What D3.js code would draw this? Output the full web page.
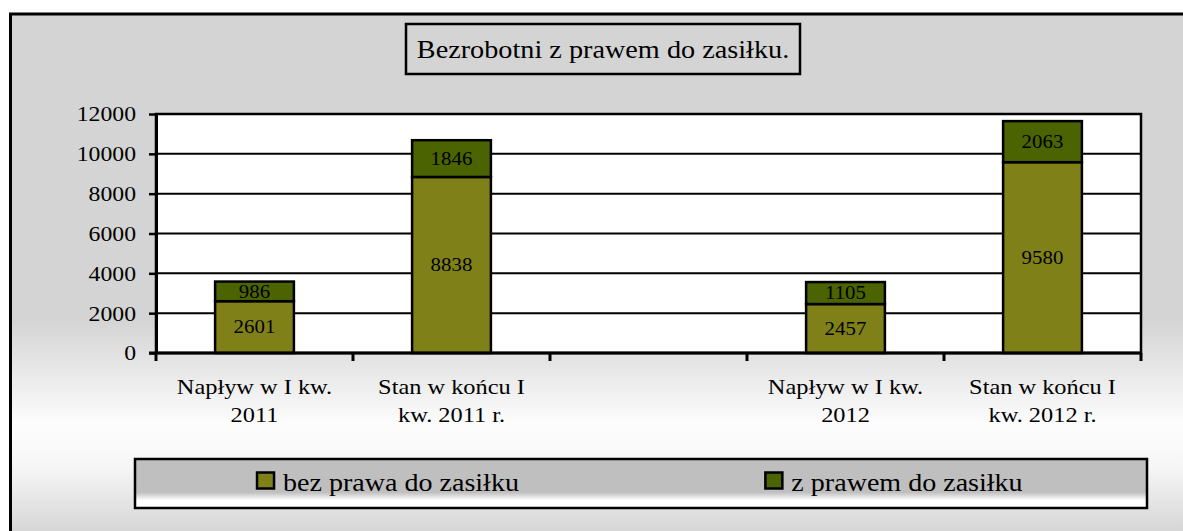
<!DOCTYPE html>
<html>
<head>
<meta charset="utf-8">
<script src="https://cdn.jsdelivr.net/npm/d3@7"></script>
<style>
  body { margin: 0; background: #fff; }
  svg text { font-family: "Liberation Serif", "Times New Roman", serif !important; fill: #000; }
</style>
</head>
<body>
<div id="chart"></div>
<script>
(function() {

    // data
    var categories = ["Napływ w I kw.\n2011", "Stan w końcu I\nkw. 2011 r.", "", "Napływ w I kw.\n2012", "Stan w końcu I\nkw. 2012 r."];
    var bezPrawa = [2601, 8838, null, 2457, 9580];
    var zPrawem = [986, 1846, null, 1105, 2063];
    var seriesNames = ["bez prawa do zasiłku", "z prawem do zasiłku"];
    var seriesColors = ["#808018", "#4b6300"];
    var yTicks = [0, 2000, 4000, 6000, 8000, 10000, 12000];
    var title = "Bezrobotni z prawem do zasiłku.";

    var width = 1183, height = 531;
    var plot = {left: 156, right: 1141, top: 114, bottom: 353};
    var sx = 1.13; // the original text is stretched horizontally
    var serif = '"Liberation Serif", "Times New Roman", serif';

    var svg = d3.select("#chart")
        .append("svg")
        .attr("width", width)
        .attr("height", height)
        .attr("font-family", serif);

    var defs = svg.append("defs");

    var bg = defs.append("linearGradient")
        .attr("id", "bg")
        .attr("gradientUnits", "userSpaceOnUse")
        .attr("x1", 0).attr("x2", 0).attr("y1", 0).attr("y2", height);
    [[0, "#d4d4d4"], [320, "#d4d4d4"], [425, "#fdfdfd"], [468, "#f6f6f6"], [531, "#d6d6d6"]].forEach(function(s) {
        bg.append("stop").attr("offset", s[0] / height).attr("stop-color", s[1]);
    });

    var lg = defs.append("linearGradient")
        .attr("id", "lg")
        .attr("x1", 0).attr("x2", 0).attr("y1", 0).attr("y2", 1);
    [[0, "#bfbfbf"], [0.68, "#bfbfbf"], [0.84, "#ffffff"], [1, "#ffffff"]].forEach(function(s) {
        lg.append("stop").attr("offset", s[0]).attr("stop-color", s[1]);
    });

    // outer frame (runs past the right and bottom edges)
    svg.append("rect")
        .attr("x", 10.5).attr("y", 14)
        .attr("width", width + 20).attr("height", height + 20)
        .attr("fill", "url(#bg)")
        .attr("stroke", "#000")
        .attr("stroke-width", 3);

    function stext(parent, x, y, txt, size, anchor, s) {
        return parent.append("text")
            .attr("transform", "translate(" + x + "," + y + ") scale(" + (s || sx) + ",1)")
            .attr("text-anchor", anchor || "middle")
            .attr("font-family", serif)
            .style("font-size", size + "px")
            .text(txt);
    }

    // title box
    svg.append("rect")
        .attr("x", 406).attr("y", 24)
        .attr("width", 394).attr("height", 50)
        .attr("fill", "none")
        .attr("stroke", "#000")
        .attr("stroke-width", 2.5);
    stext(svg, 603, 57.5, title, 25);

    var x = d3.scaleBand()
        .domain(categories)
        .range([plot.left, plot.right])
        .paddingInner(0.6)
        .paddingOuter(0.3);

    var y = d3.scaleLinear()
        .domain([0, 12000])
        .range([plot.bottom, plot.top]);

    // plot area
    svg.append("rect")
        .attr("x", plot.left).attr("y", plot.top)
        .attr("width", plot.right - plot.left).attr("height", plot.bottom - plot.top)
        .attr("fill", "#fff")
        .attr("stroke", "#000")
        .attr("stroke-width", 2.5);

    svg.append("g")
        .selectAll("line")
        .data(yTicks.filter(function(d) { return d > 0; }))
        .enter().append("line")
        .attr("x1", plot.left).attr("x2", plot.right)
        .attr("y1", function(d) { return y(d); })
        .attr("y2", function(d) { return y(d); })
        .attr("stroke", "#000")
        .attr("stroke-width", 2);

    // stacked bars
    var rows = categories.map(function(c, i) {
        return {cat: c, bez: bezPrawa[i] || 0, z: zPrawem[i] || 0};
    }).filter(function(r) { return r.bez + r.z > 0; });

    var stack = d3.stack().keys(["bez", "z"])(rows);

    var layers = svg.selectAll(".layer")
        .data(stack)
        .enter().append("g")
        .attr("class", "layer")
        .attr("fill", function(d, i) { return seriesColors[i]; });

    layers.selectAll("rect")
        .data(function(d) { return d; })
        .enter().append("rect")
        .attr("x", function(d) { return x(d.data.cat); })
        .attr("y", function(d) { return y(d[1]); })
        .attr("width", x.bandwidth())
        .attr("height", function(d) { return y(d[0]) - y(d[1]); })
        .attr("stroke", "#000")
        .attr("stroke-width", 2.5);

    layers.each(function() {
        var g = d3.select(this);
        g.datum().forEach(function(d) {
            var cy = (y(d[0]) + y(d[1])) / 2;
            stext(g, x(d.data.cat) + x.bandwidth() / 2, cy + 6.3, d[1] - d[0], 18.5)
                .attr("fill", "#000");
        });
    });

    // y axis
    var yAxis = svg.append("g")
        .attr("transform", "translate(" + plot.left + ",0)")
        .call(d3.axisLeft(y).tickValues(yTicks).tickFormat(d3.format("d")).tickSize(7).tickSizeOuter(0))
        .attr("font-family", serif);
    yAxis.select(".domain").attr("stroke", "#000").attr("stroke-width", 3);
    yAxis.selectAll(".tick line").attr("stroke", "#000").attr("stroke-width", 2.5);
    yAxis.selectAll(".tick text")
        .attr("x", -20 / sx)
        .attr("dy", "0.33em")
        .attr("transform", "scale(" + sx + ",1)")
        .attr("font-family", serif)
        .style("font-size", "21px");

    // x axis line and ticks at category boundaries
    svg.append("line")
        .attr("x1", plot.left - 7).attr("x2", plot.right)
        .attr("y1", plot.bottom).attr("y2", plot.bottom)
        .attr("stroke", "#000").attr("stroke-width", 3);

    var bounds = categories.map(function(c) { return x(c) - x.step() * 0.3; }).concat([plot.right]);
    svg.append("g")
        .selectAll("line")
        .data(bounds)
        .enter().append("line")
        .attr("x1", function(d) { return d; }).attr("x2", function(d) { return d; })
        .attr("y1", plot.bottom).attr("y2", plot.bottom + 8)
        .attr("stroke", "#000").attr("stroke-width", 3);

    categories.forEach(function(c) {
        c.split("\n").forEach(function(line, j) {
            stext(svg, x(c) + x.bandwidth() / 2, 393.5 + j * 28.5, line, 21, "middle", 1.16);
        });
    });

    // legend
    var legend = {x: 135, y: 459, w: 1012, h: 49};
    svg.append("rect")
        .attr("x", legend.x).attr("y", legend.y)
        .attr("width", legend.w).attr("height", legend.h)
        .attr("fill", "url(#lg)")
        .attr("stroke", "#000")
        .attr("stroke-width", 2.5);

    var lsx = 1.1;
    seriesNames.forEach(function(name, i) {
        var center = legend.x + legend.w * (i * 2 + 1) / 4;
        var t = stext(svg, 0, 490.5, name, 25.5, "start", lsx);
        var tw = t.node().getComputedTextLength() * lsx;
        var total = 18 + 8 + tw;
        var left = center - total / 2;
        svg.append("rect")
            .attr("x", left).attr("y", 472.5)
            .attr("width", 17).attr("height", 16)
            .attr("fill", seriesColors[i])
            .attr("stroke", "#000")
            .attr("stroke-width", 2.5);
        t.attr("transform", "translate(" + (left + 26) + ",490.5) scale(" + lsx + ",1)");
    });

})();
</script>
</body>
</html>
